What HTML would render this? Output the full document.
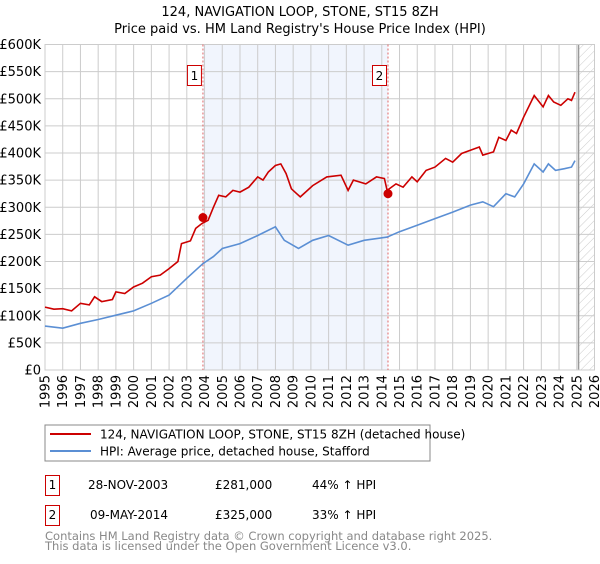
<!DOCTYPE html>
<html><head><meta charset="utf-8"><style>
body{margin:0;background:#fff;font-family:"DejaVu Sans","Liberation Sans",sans-serif;}
svg text{font-family:"DejaVu Sans","Liberation Sans",sans-serif;}
</style></head><body>
<svg id="c" width="600" height="560" xmlns="http://www.w3.org/2000/svg">
<defs><pattern id="hatch" width="6" height="6" patternUnits="userSpaceOnUse" patternTransform="rotate(45)"><line x1="0" y1="0" x2="0" y2="6" stroke="#ccc" stroke-width="1"/></pattern></defs>
<text x="300" y="16" text-anchor="middle" font-size="13">124, NAVIGATION LOOP, STONE, ST15 8ZH</text>
<text x="300" y="33" text-anchor="middle" font-size="13">Price paid vs. HM Land Registry's House Price Index (HPI)</text>
<g id="plot"></g>
<rect x="45" y="425" width="385" height="36" fill="#fff" stroke="#888"/>
<line x1="50" y1="434" x2="91" y2="434" stroke="#cc0000" stroke-width="2"/>
<text x="100" y="438.5" font-size="12">124, NAVIGATION LOOP, STONE, ST15 8ZH (detached house)</text>
<line x1="50" y1="451" x2="91" y2="451" stroke="#5b8fd4" stroke-width="2"/>
<text x="100" y="455.5" font-size="12">HPI: Average price, detached house, Stafford</text>
<g>
<rect x="45.5" y="475.5" width="14" height="20" fill="#fff" stroke="#cc0000"/>
<text x="52.5" y="489" font-size="12" text-anchor="middle">1</text>
<text x="88" y="489" font-size="12">28-NOV-2003</text>
<text x="215" y="489" font-size="12">£281,000</text>
<text x="312" y="489" font-size="12">44% ↑ HPI</text></g>
<g>
<rect x="45.5" y="505.5" width="14" height="20" fill="#fff" stroke="#cc0000"/>
<text x="52.5" y="519" font-size="12" text-anchor="middle">2</text>
<text x="90" y="519" font-size="12">09-MAY-2014</text>
<text x="215" y="519" font-size="12">£325,000</text>
<text x="312" y="519" font-size="12">33% ↑ HPI</text></g>
<text x="45" y="540" font-size="11.5" fill="#888">Contains HM Land Registry data © Crown copyright and database right 2025.</text>
<text x="45" y="550" font-size="11.5" fill="#888">This data is licensed under the Open Government Licence v3.0.</text>
</svg>
<script>
const redYears=[1995,1995.5,1996,1996.5,1997,1997.5,1997.8,1998.2,1998.8,1999,1999.5,2000,2000.5,2001,2001.5,2002,2002.5,2002.7,2003.2,2003.5,2003.85,2004.2,2004.5,2004.8,2005.2,2005.6,2006,2006.5,2007,2007.3,2007.6,2008,2008.3,2008.6,2008.9,2009.2,2009.4,2010.1,2010.9,2011.7,2012.1,2012.4,2013.1,2013.7,2014.15,2014.3,2014.8,2015.2,2015.7,2016,2016.5,2017,2017.6,2018,2018.5,2019,2019.5,2019.7,2020.3,2020.6,2021,2021.3,2021.6,2022,2022.6,2023.1,2023.4,2023.7,2024.1,2024.5,2024.7,2024.9];
const redValues=[116,112,113,109,123,120,135,126,130,144,141,153,160,172,175,187,200,233,238,261,270,276,300,322,319,331,328,337,356,350,365,377,380,362,334,325,319,340,356,359,331,350,343,356,353,331,343,337,356,347,368,374,390,383,399,405,411,396,402,429,423,442,436,466,506,485,506,494,488,500,497,512];
const hpiYears=[1995,1996,1997,1998,1999,2000,2001,2002,2003,2003.9,2004.5,2005,2006,2007,2008,2008.5,2009.3,2010.1,2011,2012.1,2013,2014.3,2015,2016,2017,2018,2019,2019.7,2020.3,2021,2021.5,2022,2022.6,2023.1,2023.4,2023.8,2024.3,2024.7,2024.9];
const hpiValues=[81,77,86,93,101,109,123,138,169,196,209,224,233,248,264,239,224,239,248,230,239,245,255,267,279,291,304,310,301,325,319,343,380,365,380,368,371,374,386];
const saleYears=[2003.91,2014.35];
const saleValues=[281,325];
const saleLabels=["1","2"];
const yTicks=[0,50,100,150,200,250,300,350,400,450,500,550,600];
const yTickLabels=["£0","£50K","£100K","£150K","£200K","£250K","£300K","£350K","£400K","£450K","£500K","£550K","£600K"];
const xTicks=[1995,1996,1997,1998,1999,2000,2001,2002,2003,2004,2005,2006,2007,2008,2009,2010,2011,2012,2013,2014,2015,2016,2017,2018,2019,2020,2021,2022,2023,2024,2025,2026];
const L=45,R=594.5,T=44.5,B=370;
const xs=y=>L+(y-1995)/31*(R-L);
const ys=v=>B-v/600*(B-T);
const NS="http://www.w3.org/2000/svg";
const g=document.getElementById('plot');
function mk(t,a,p){const e=document.createElementNS(NS,t);for(const k in a)e.setAttribute(k,a[k]);(p||g).appendChild(e);return e;}
let e;
e=mk('rect',{x:xs(saleYears[0]),y:T,width:xs(saleYears[1])-xs(saleYears[0]),height:B-T,fill:'#eef3fc',opacity:0.8});


e=mk('rect',{x:xs(2025.1),y:T,width:R-xs(2025.1),height:B-T,fill:'url(#hatch)'});


yTicks.forEach((v,i)=>{
 e=mk('line',{x1:L,x2:R,y1:ys(v),y2:ys(v),stroke:'#ccc'});
 
 
 e=mk('text',{x:L-4,y:ys(v)+4.5,'text-anchor':'end','font-size':'13'});
 e.textContent=yTickLabels[i];
 
 
});
xTicks.forEach(y=>{
 e=mk('line',{x1:xs(y),x2:xs(y),y1:T,y2:B,stroke:'#ccc'});
 
 
 e=mk('text',{x:0,y:0,'text-anchor':'end','font-size':'13',transform:`translate(${xs(y)+4.5},375) rotate(-90)`});
 e.textContent=y;
 
 
});
e=mk('line',{x1:xs(2025.1),x2:xs(2025.1),y1:T,y2:B,stroke:'#999','stroke-width':1.5});


e=mk('rect',{x:L,y:T,width:R-L,height:B-T,fill:'none',stroke:'#ccc'});


saleYears.forEach((y,i)=>{
 e=mk('line',{x1:xs(y),x2:xs(y),y1:T,y2:B,stroke:'#e06666','stroke-dasharray':'2,2'});
 
 
});
function path(xa,va,col,name){
 const d=xa.map((y,i)=>(i?'L':'M')+xs(y).toFixed(1)+','+ys(va[i]).toFixed(1)).join('');
 const p=mk('path',{d:d,fill:'none',stroke:col,'stroke-width':1.6});
 
 
}
path(hpiYears,hpiValues,'#5b8fd4','hpi-line');
path(redYears,redValues,'#cc0000','property-price-line');
saleYears.forEach((y,i)=>{
 e=mk('circle',{cx:xs(y),cy:ys(saleValues[i]),r:4.5,fill:'#cc0000'});
 
 
 e=mk('rect',{x:xs(y)-15.5,y:65.5,width:14,height:20,fill:'#fff',stroke:'#cc0000'});
 
 
 e=mk('text',{x:xs(y)-8.5,y:80,'text-anchor':'middle','font-size':'12'});
 e.textContent=saleLabels[i];
 
 
});
</script>
</body></html>
